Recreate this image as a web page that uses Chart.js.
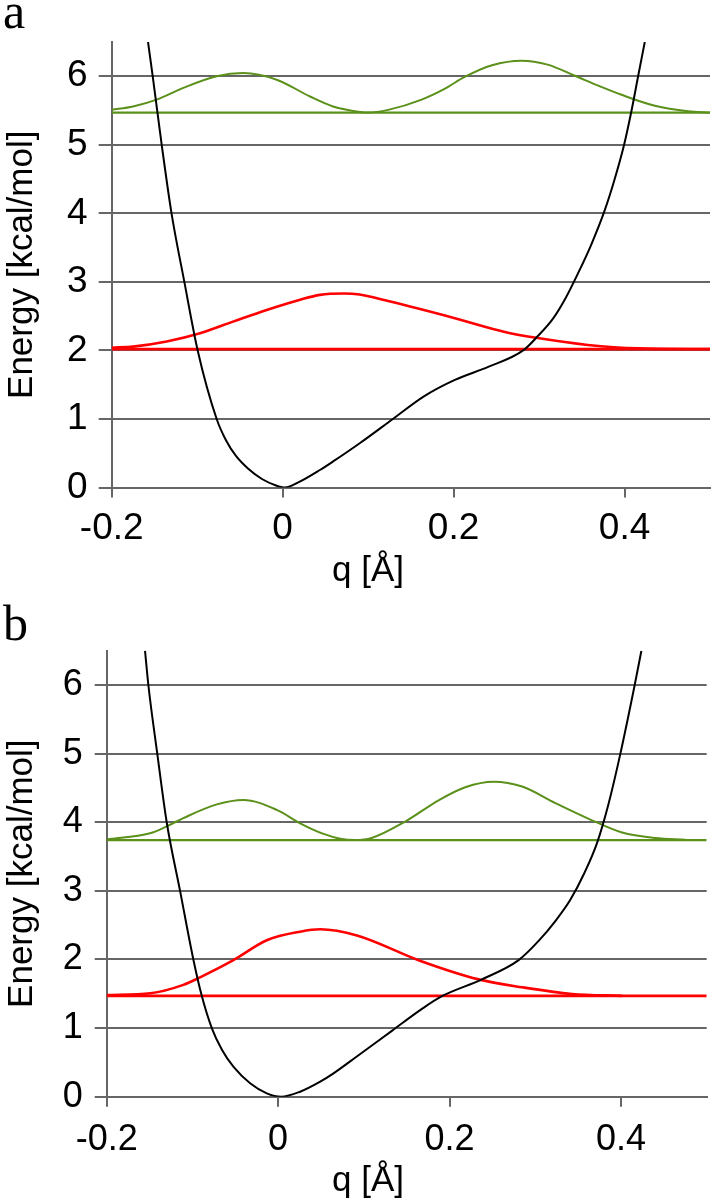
<!DOCTYPE html>
<html>
<head>
<meta charset="utf-8">
<script src="https://cdn.jsdelivr.net/npm/chart.js@4.4.1/dist/chart.umd.min.js"></script>
<style>
  body { margin: 0; background: #fff; width: 715px; height: 1202px; position: relative; overflow: hidden;
         font-family: "Liberation Sans", Arial, sans-serif; }
  canvas { position: absolute; left: 0; }
  #chartA { top: 0; }
  #chartB { top: 600px; }
  .panel { position: absolute; font-family: "Liberation Serif", "Times New Roman", serif; font-size: 50px; line-height: 50px; }
  .xtitle { position: absolute; left: 218px; width: 300px; text-align: center; font-size: 35px; line-height: 40px; }
</style>
</head>
<body>
<canvas id="chartA" width="715" height="600"></canvas>
<canvas id="chartB" width="715" height="602"></canvas>
<div class="panel" style="left:3px; top:-14px;">a</div>
<div class="panel" style="left:3px; top:598px;">b</div>
<div class="xtitle" style="top:549px;">q [Å]</div>
<div class="xtitle" style="top:1159px;">q [Å]</div>
<script>
// axes
const qMin = -0.2, qMax = 0.5;
const eMin = 0, eMax = 6.5;
const xTicks = [-0.2, 0, 0.2, 0.4];
const yTicks = [0, 1, 2, 3, 4, 5, 6];

// panel a - potential
const aPotQ = [-0.1575, -0.152, -0.1415, -0.13, -0.115, -0.0994, -0.0772, -0.0663, -0.0546, -0.0406, -0.0242, -0.0078, 0.0027,
               0.02, 0.0436, 0.059, 0.0906, 0.129, 0.1653, 0.2015, 0.2405, 0.2814, 0.2986, 0.3161, 0.3313, 0.3454,
               0.3606, 0.377, 0.3885, 0.3995, 0.4082, 0.4159, 0.4237];
const aPotE = [6.5, 6.0, 5.0, 4.0, 3.0, 2.0, 1.0, 0.69, 0.46, 0.277, 0.124, 0.03, 0,
               0.085, 0.255, 0.38, 0.65, 1.0, 1.33, 1.57, 1.76, 2.0, 2.21, 2.46, 2.77, 3.12,
               3.53, 4.05, 4.5, 5.0, 5.5, 6.0, 6.5];
// panel a - ground level and its wave
const aRedLevel = 2.02;
const aRedQ = [-0.2, -0.175, -0.1357, -0.0967, -0.058, -0.0187, 0.0205, 0.0436, 0.072, 0.09, 0.1235, 0.2015, 0.26, 0.2986, 0.357, 0.416, 0.5];
const aRedE = [2.04, 2.055, 2.13, 2.25, 2.42, 2.59, 2.74, 2.81, 2.83, 2.815, 2.72, 2.47, 2.27, 2.18, 2.08, 2.03, 2.02];
// panel a - first excited level and its wave
const aGreenLevel = 5.47;
const aGreenQ = [-0.2, -0.175, -0.1474, -0.1163, -0.0772, -0.046, -0.007, 0.032, 0.059, 0.0906, 0.1,
                 0.1235, 0.1626, 0.19, 0.213, 0.245, 0.2795, 0.31, 0.3419, 0.37, 0.3965, 0.4355, 0.4744, 0.5];
const aGreenE = [5.51, 5.56, 5.66, 5.83, 6.0, 6.047, 5.95, 5.705, 5.56, 5.48, 5.47,
                 5.51, 5.66, 5.82, 5.99, 6.16, 6.226, 6.17, 6.007, 5.86, 5.73, 5.57, 5.49, 5.47];

// panel b - potential
const bPotQ = [-0.1553, -0.1514, -0.141, -0.13, -0.1144, -0.0989, -0.0891, -0.0774, -0.0654, -0.0522, -0.0327, -0.0132, 0.0036,
               0.0257, 0.0491, 0.0646, 0.0922, 0.1327, 0.1678, 0.1911, 0.2378, 0.2806, 0.3039, 0.3234, 0.3409,
               0.3573, 0.3721, 0.3853, 0.3993, 0.416, 0.4238];
const bPotE = [6.5, 6.0, 5.0, 4.0, 3.0, 2.0, 1.47, 1.0, 0.68, 0.437, 0.195, 0.049, 0,
               0.073, 0.219, 0.34, 0.59, 0.96, 1.28, 1.465, 1.71, 1.99, 2.27, 2.56, 2.87,
               3.26, 3.7, 4.26, 5.0, 6.0, 6.5];
// panel b - ground level and its wave
const bRedLevel = 1.47;
const bRedQ = [-0.2, -0.149, -0.1106, -0.0911, -0.0522, -0.0132, 0.0257, 0.049, 0.092, 0.1638, 0.2339, 0.2846, 0.343, 0.4013];
const bRedE = [1.48, 1.507, 1.63, 1.74, 1.99, 2.28, 2.405, 2.44, 2.35, 1.99, 1.71, 1.595, 1.497, 1.47];
// panel b - first excited level and its wave
const bGreenLevel = 3.74;
const bGreenQ = [-0.2, -0.1494, -0.13, -0.1106, -0.0716, -0.0405, -0.0015, 0.0257, 0.053, 0.0724, 0.09,
                 0.109, 0.1483, 0.1872, 0.2183, 0.2515, 0.2846, 0.3234, 0.3624, 0.4013, 0.44, 0.475];
const bGreenE = [3.75, 3.84, 3.94, 4.06, 4.26, 4.325, 4.18, 3.985, 3.83, 3.76, 3.74,
                 3.77, 4.01, 4.32, 4.51, 4.59, 4.52, 4.28, 4.05, 3.85, 3.77, 3.745];

const GRID = '#666666';
const RED = '#ff0000';
const GREEN = '#5b901a';
const FONT = '"Liberation Sans", Arial, sans-serif';

function pts(qs, es) {
    return qs.map((q, i) => ({x: q, y: es[i]}));
}

function level(e) {
    return [{x: qMin, y: e}, {x: qMax, y: e}];
}

function curve(data, color, width) {
    return {
        data: data,
        borderColor: color,
        borderWidth: width,
        pointRadius: 0,
        fill: false,
        cubicInterpolationMode: 'monotone'
    };
}

function makeChart(id, sets, lay) {
    return new Chart(document.getElementById(id), {
        type: 'line',
        data: {
            datasets: [
                curve(pts(sets.potQ, sets.potE), '#000', 2),
                curve(pts(sets.redQ, sets.redE), RED, 2.6),
                curve(level(sets.redLevel), RED, 2.8),
                curve(pts(sets.greenQ, sets.greenE), GREEN, 2),
                curve(level(sets.greenLevel), GREEN, 2.2)
            ]
        },
        options: {
            responsive: false,
            animation: false,
            devicePixelRatio: 1,
            layout: {padding: {top: lay.top, right: lay.right, left: 0, bottom: 0}},
            plugins: {legend: {display: false}, tooltip: {enabled: false}},
            scales: {
                x: {
                    type: 'linear',
                    min: qMin,
                    max: qMax,
                    afterBuildTicks: s => { s.ticks = xTicks.map(v => ({value: v})); },
                    afterFit: s => { s.height = lay.xHeight; },
                    grid: {drawOnChartArea: false, drawTicks: true, tickLength: 10, color: GRID, lineWidth: 2},
                    border: {display: true, color: GRID, width: 2},
                    ticks: {
                        color: '#000',
                        padding: lay.xPad,
                        maxRotation: 0,
                        font: {family: FONT, size: lay.tickSize},
                        callback: v => String(+Number(v).toFixed(1))
                    }
                },
                y: {
                    type: 'linear',
                    min: eMin,
                    max: eMax,
                    afterBuildTicks: s => { s.ticks = yTicks.map(v => ({value: v})); },
                    afterFit: s => { s.width = lay.yWidth; },
                    grid: {color: GRID, lineWidth: 2, tickLength: lay.yTickLen},
                    border: {display: true, color: GRID, width: 2},
                    ticks: {
                        color: '#000',
                        padding: lay.yPad,
                        font: {family: FONT, size: lay.tickSize},
                        callback: v => String(v)
                    },
                    title: {
                        display: true,
                        text: 'Energy [kcal/mol]',
                        color: '#000',
                        font: {family: FONT, size: 35},
                        padding: {top: 1, bottom: 0}
                    }
                }
            }
        }
    });
}

makeChart('chartA', {
    potQ: aPotQ, potE: aPotE,
    redQ: aRedQ, redE: aRedE, redLevel: aRedLevel,
    greenQ: aGreenQ, greenE: aGreenE, greenLevel: aGreenLevel
}, {top: 42, right: 5, yWidth: 111.7, xHeight: 112.5, tickSize: 37, yTickLen: 13, yPad: 11, xPad: 9});

makeChart('chartB', {
    potQ: bPotQ, potE: bPotE,
    redQ: bRedQ, redE: bRedE, redLevel: bRedLevel,
    greenQ: bGreenQ, greenE: bGreenE, greenLevel: bGreenLevel
}, {top: 50.7, right: 8.3, yWidth: 106.7, xHeight: 105.3, tickSize: 36, yTickLen: 12, yPad: 12, xPad: 12});
</script>
</body>
</html>
